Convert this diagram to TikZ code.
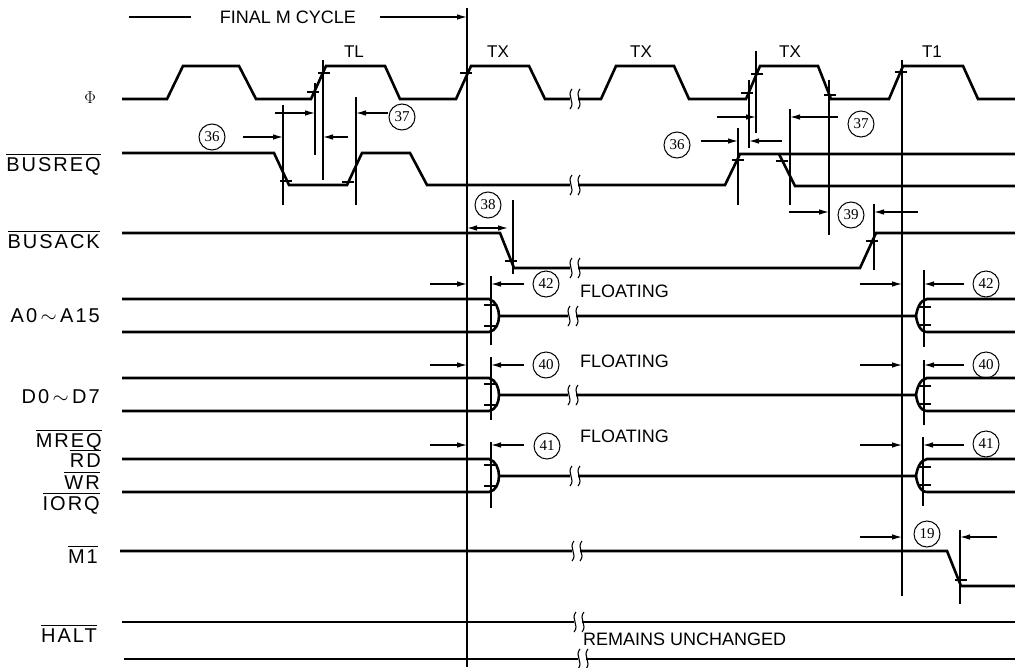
\documentclass[tikz,border=0pt]{standalone}
\usepackage{fontspec}
\usepackage{amsmath}
\usetikzlibrary{arrows.meta}
\newfontfamily\sigfont[LetterSpace=10]{Liberation Sans}
\newfontfamily\txtfont{Liberation Sans}
\newfontfamily\numfont{Liberation Serif}
\newcommand{\ovl}[1]{$\overline{\mbox{#1}}$}
\newcommand{\edgetick}[2]{\draw[guide] (#1-6,#2) -- (#1+6,#2);}
\newcommand{\wbreak}[2]{%
  \fill[white] (#1-4,#2-3) rectangle (#1+4,#2+3);
  \draw[guide] (#1-2,#2-10) .. controls (#1-8,#2-3) and (#1+2,#2+3) .. (#1-4,#2+10);
  \draw[guide] (#1+6,#2-10) .. controls (#1,#2-3) and (#1+10,#2+3) .. (#1+4,#2+10);}

\begin{document}
\begin{tikzpicture}[x=1pt,y=-1pt,
  wave/.style={line width=2.6pt},
  guide/.style={line width=1.1pt},
  dim/.style={line width=1.1pt,-{Latex[length=10pt,width=5.5pt]}},
  num/.style={draw,circle,line width=1pt,minimum size=26pt,inner sep=0pt,font=\numfont\fontsize{15}{15}\selectfont},
  sig/.style={anchor=base east,inner sep=0pt,font=\sigfont\fontsize{20}{20}\selectfont},
  note/.style={inner sep=0pt,font=\txtfont\fontsize{18}{18}\selectfont},
  cyc/.style={inner sep=0pt,font=\txtfont\fontsize{17}{17}\selectfont}]
\useasboundingbox (0,0) rectangle (1015,667);
% \draw[densely dotted] (0,0) grid[step=50] (1015,667);

% signal names
\node[anchor=base east,inner sep=0pt,font=\fontsize{18}{18}\selectfont] (lphi) at (96,103) {$\Phi$};
\node[sig] (lbusreq) at (101,171) {\ovl{BUSREQ}};
\node[sig] (lbusack) at (100,248) {\ovl{BUSACK}};
\node[sig] (laddr) at (100,322) {A0$\,\sim\,$A15};
\node[sig] (ldata) at (100,403) {D0$\,\sim\,$D7};
\node[sig] (lmreq) at (102,447) {\ovl{MREQ}};
\node[sig] (lrd) at (101,467) {\ovl{RD}};
\node[sig] (lwr) at (100,489) {\ovl{WR}};
\node[sig] (liorq) at (100,510) {\ovl{IORQ}};
\node[sig] (lmone) at (98,563) {\ovl{M1}};
\node[sig] (lhalt) at (97,642) {\ovl{HALT}};

% cycle names
\node[note] (fmc) at (288,17) {FINAL M CYCLE};
\draw[guide] (129,17) -- (191,17);
\draw[dim] (380,17) -- (467,17);
\node[cyc] (ctl) at (354,52) {TL};
\node[cyc] (ctxa) at (498,52) {TX};
\node[cyc] (ctxb) at (641,52) {TX};
\node[cyc] (ctxc) at (790,52) {TX};
\node[cyc] (ctone) at (932,52) {T1};
\draw[guide] (467,8) -- (467,667);
\draw[guide] (902,60) -- (902,596);

% waveforms
\draw[wave] (122,99) -- (167,99) -- (183,66) -- (239,66) -- (256,99) -- (311,99) -- (326,66) -- (385,66) -- (400,99) -- (456,99) -- (471,66) -- (529,66) -- (545,99) -- (601,99) -- (616,66) -- (674,66) -- (689,99) -- (746,99) -- (760,66) -- (818,66) -- (831,99) -- (889,99) -- (903,66) -- (963,66) -- (978,99) -- (1015,99);
\draw[wave] (122,153) -- (274,153) -- (289,185) -- (347,185) -- (362,153) -- (410,153) -- (427,185) -- (725,185) -- (740,154) -- (1015,154);
\draw[wave] (779,154) -- (795,186) -- (1015,186);
\draw[wave] (122,233) -- (500,233) -- (514,268) -- (860,268) -- (876,233) -- (1015,233);
\draw[wave] (122,299) -- (489,299) .. controls (496,301) and (499,309) .. (499,316) .. controls (499,323) and (496,331) .. (489,332) -- (122,332);
\draw[wave] (499,316) -- (916,316) .. controls (917,309) and (920,300) .. (927,299) -- (1015,299);
\draw[wave] (916,316) .. controls (917,323) and (920,332) .. (927,332) -- (1015,332);
\draw[wave] (122,378) -- (489,378) .. controls (496,380) and (499,388) .. (499,395) .. controls (499,402) and (496,410) .. (489,411) -- (122,411);
\draw[wave] (499,395) -- (916,395) .. controls (917,388) and (920,379) .. (927,378) -- (1015,378);
\draw[wave] (916,395) .. controls (917,402) and (920,411) .. (927,411) -- (1015,411);
\draw[wave] (122,459) -- (489,459) .. controls (496,461) and (499,469) .. (499,476) .. controls (499,483) and (496,491) .. (489,492) -- (122,492);
\draw[wave] (499,476) -- (916,476) .. controls (917,469) and (920,460) .. (927,459) -- (1015,459);
\draw[wave] (916,476) .. controls (917,483) and (920,492) .. (927,492) -- (1015,492);
\draw[wave] (120,551) -- (947,551) -- (961,586) -- (1015,586);
\draw[wave] (122,622) -- (1015,622);
\draw[wave] (124,659) -- (1015,659);

\wbreak{574}{99}
\wbreak{574}{185}
\wbreak{574}{268}
\wbreak{572}{316}
\wbreak{572}{395}
\wbreak{574}{476}
\wbreak{576}{551}
\wbreak{578}{622}
\wbreak{582}{659}

\edgetick{313}{92} \edgetick{324}{73} \edgetick{466}{73}
\edgetick{747}{93} \edgetick{757}{74} \edgetick{830}{95} \edgetick{901}{72}
\edgetick{286}{181} \edgetick{348}{182} \edgetick{738}{160} \edgetick{782}{161}
\edgetick{511}{261} \edgetick{872}{241}
\edgetick{490}{305} \edgetick{490}{326} \edgetick{925}{307} \edgetick{925}{325}
\edgetick{490}{384} \edgetick{490}{405} \edgetick{925}{386} \edgetick{925}{404}
\edgetick{490}{465} \edgetick{490}{486} \edgetick{925}{467} \edgetick{925}{485}
\edgetick{961}{580}

% 36, 37 at TL
\draw[guide] (283,105) -- (283,205);
\draw[guide] (315,83) -- (315,155);
\draw[guide] (323,60) -- (323,180);
\draw[guide] (356,97) -- (356,205);
\draw[dim] (275,113) -- (315,113);
\draw[dim] (348,137) -- (323,137);
\draw[dim] (243,137) -- (283,137);
\draw[dim] (388,113) -- (356,113);
\node[num] (nsixa) at (212,137) {36};
\node[num] (nsevena) at (402,117) {37};

% 36, 37 at last TX
\draw[guide] (749,80) -- (749,148);
\draw[guide] (756,51) -- (756,133);
\draw[guide] (738,128) -- (738,205);
\draw[guide] (790,109) -- (790,205);
\draw[guide] (829,80) -- (829,235);
\draw[dim] (717,117) -- (756,117);
\draw[dim] (782,141) -- (749,141);
\draw[dim] (701,141) -- (738,141);
\draw[dim] (838,117) -- (790,117);
\node[num] (nsixb) at (677,145) {36};
\node[num] (nsevenb) at (861,124) {37};

% 38, 39
\draw[guide,{Latex[length=10pt,width=5.5pt]}-{Latex[length=10pt,width=5.5pt]}] (467,228) -- (508,228);
\node[num] (neight) at (488,205) {38};
\draw[guide] (513,200) -- (513,274);
\draw[dim] (789,212) -- (829,212);
\node[num] (nnine) at (851,215) {39};
\draw[guide] (874,204) -- (874,270);
\draw[dim] (918,212) -- (874,212);

% float / drive
\draw[dim] (430,284) -- (467,284);
\draw[guide] (491,276) -- (491,345);
\draw[dim] (524,284) -- (491,284);
\node[num] (ntwoa) at (546,284) {42};
\node[note,anchor=west] (fla) at (580,291) {FLOATING};
\draw[dim] (860,284) -- (902,284);
\draw[guide] (924,270) -- (924,347);
\draw[dim] (964,284) -- (924,284);
\node[num] (ntwob) at (986,284) {42};

\draw[dim] (430,365) -- (467,365);
\draw[guide] (491,357) -- (491,420);
\draw[dim] (524,365) -- (491,365);
\node[num] (nzeroa) at (546,365) {40};
\node[note,anchor=west] (fld) at (580,361) {FLOATING};
\draw[dim] (860,365) -- (902,365);
\draw[guide] (924,360) -- (924,425);
\draw[dim] (964,365) -- (924,365);
\node[num] (nzerob) at (986,365) {40};

\draw[dim] (430,445) -- (467,445);
\draw[guide] (491,442) -- (491,508);
\draw[dim] (524,445) -- (491,445);
\node[num] (nonea) at (547,446) {41};
\node[note,anchor=west] (flm) at (580,436) {FLOATING};
\draw[dim] (860,445) -- (902,445);
\draw[guide] (923,437) -- (923,506);
\draw[dim] (964,445) -- (923,445);
\node[num] (noneb) at (986,444) {41};

% 19
\draw[dim] (860,537) -- (902,537);
\node[num] (nnineteen) at (927,534) {19};
\draw[guide] (960,530) -- (960,604);
\draw[dim] (997,537) -- (960,537);

\node[note,anchor=west] (rem) at (583,639) {REMAINS UNCHANGED};
\end{tikzpicture}
\end{document}
